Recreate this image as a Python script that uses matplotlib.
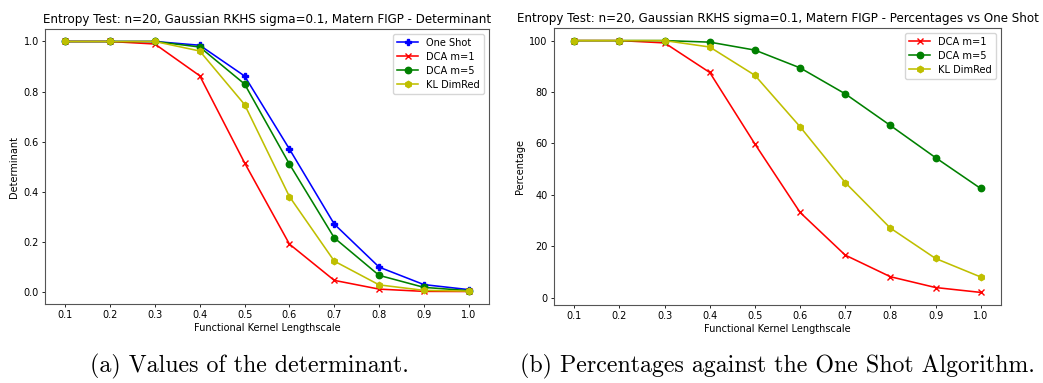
import matplotlib
matplotlib.use("Agg")
import matplotlib.pyplot as plt

# lengthscales on the x axis
lengthscales = [0.1, 0.2, 0.3, 0.4, 0.5, 0.6, 0.7, 0.8, 0.9, 1.0]

# (a) determinant values
det_one_shot = [1.0, 1.0, 1.0, 0.985, 0.862, 0.57, 0.27, 0.098, 0.028, 0.008]
det_dca1 = [1.0, 1.0, 0.99, 0.863, 0.515, 0.19, 0.045, 0.01, 0.001, 0.0005]
det_dca5 = [1.0, 1.0, 1.0, 0.978, 0.83, 0.51, 0.215, 0.065, 0.017, 0.004]
det_kl = [1.0, 1.0, 1.0, 0.962, 0.748, 0.38, 0.122, 0.027, 0.005, 0.002]

# (b) percentages vs one shot
pct_dca1 = [100, 100, 99.1, 87.6, 59.8, 33.2, 16.6, 8.2, 4.0, 2.1]
pct_dca5 = [100, 100, 100, 99.4, 96.3, 89.4, 79.3, 67.0, 54.5, 42.5]
pct_kl = [100, 100, 100, 97.5, 86.5, 66.5, 44.8, 27.1, 15.3, 8.1]

title_a = "Entropy Test: n=20, Gaussian RKHS sigma=0.1, Matern FIGP - Determinant"
title_b = "Entropy Test: n=20, Gaussian RKHS sigma=0.1, Matern FIGP - Percentages vs One Shot"
caption_a = "(a) Values of the determinant."
caption_b = "(b) Percentages against the One Shot Algorithm."

W, H = 1043, 383
fig = plt.figure(figsize=(W / 100, H / 100), dpi=100)

ax1 = fig.add_axes([45 / W, 1 - 304 / H, (489 - 45) / W, (304 - 29) / H])
ax2 = fig.add_axes([554 / W, 1 - 305 / H, (1001 - 554) / W, (305 - 28) / H])

ms = 4.6
lw = 1.15
ax1.plot(lengthscales, det_one_shot, color='b', marker='P', ms=ms + 0.3, lw=lw, label='One Shot')
ax1.plot(lengthscales, det_dca1, color='r', marker='x', ms=ms, lw=lw, label='DCA m=1')
ax1.plot(lengthscales, det_dca5, color='g', marker='o', ms=ms, lw=lw, label='DCA m=5')
ax1.plot(lengthscales, det_kl, color='y', marker='h', ms=ms, lw=lw, label='KL DimRed')
ax1.set_ylabel('Determinant', fontsize=7, labelpad=3)
ax1.set_title(title_a, fontsize=8.6, pad=4)

ax2.plot(lengthscales, pct_dca1, color='r', marker='x', ms=ms, lw=lw, label='DCA m=1')
ax2.plot(lengthscales, pct_dca5, color='g', marker='o', ms=ms, lw=lw, label='DCA m=5')
ax2.plot(lengthscales, pct_kl, color='y', marker='h', ms=ms, lw=lw, label='KL DimRed')
ax2.set_ylabel('Percentage', fontsize=7, labelpad=3)
ax2.set_title(title_b, fontsize=8.6, pad=4)

for ax in (ax1, ax2):
    ax.set_xticks(lengthscales)
    ax.tick_params(labelsize=7, length=2.5, width=0.6, pad=2)
    ax.set_xlabel('Functional Kernel Lengthscale', fontsize=7, labelpad=2)
    ax.legend(fontsize=7.1, loc='upper right', handlelength=2.2, borderpad=0.4, labelspacing=0.4)
    for s in ax.spines.values():
        s.set_color('#555555')

fig.text(249 / W, 1 - 366 / H, caption_a, family='cmr10', fontsize=17.2, ha='center', va='center')
fig.text(777 / W, 1 - 366 / H, caption_b, family='cmr10', fontsize=17.2, ha='center', va='center')

fig.savefig('out.png', dpi=100)
